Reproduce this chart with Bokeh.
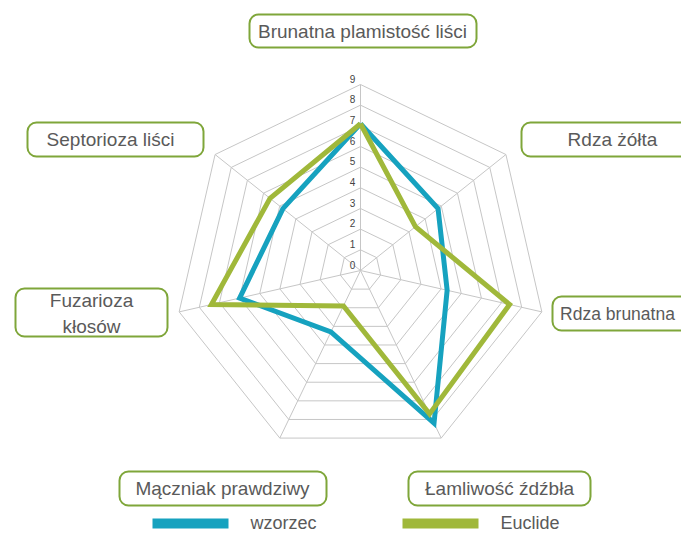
import math
from bokeh.plotting import figure
from bokeh.models import Range1d, BoxAnnotation, Label
from bokeh.core.properties import value
from bokeh.embed import file_html
from bokeh.resources import INLINE

# ---- data ----
categories = ["Brunatna plamistość liści", "Rdza żółta", "Rdza brunatna",
              "Łamliwość źdźbła", "Mączniak prawdziwy", "Fuzarioza\nkłosów",
              "Septorioza liści"]
wzorzec = [7.1, 4.8, 4.3, 8.2, 3.3, 6.0, 4.8]
euclide = [7.1, 3.4, 7.4, 7.7, 1.9, 7.4, 5.6]
series_names = ["wzorzec", "Euclide"]
ring_ticks = [0, 1, 2, 3, 4, 5, 6, 7, 8, 9]
rmax = 9

# ---- styles ----
BLUE = "#16a2bf"
GREEN = "#a0b83a"
BOX_GREEN = "#7fa63a"
GRID = "#c6c6c6"
TXT = "#5a5a5a"
FONT = "Liberation Sans"

W, H = 681, 532
S = 186.0 / 9  # px per unit
CX, CY = 360, 270  # picture px of radar centre
OFF = 0


def px(x):
    return (x - CX) / S


def py(y):
    return (CY - y) / S


p = figure(width=W, height=H, output_backend="svg", toolbar_location=None,
           x_range=Range1d(px(OFF), px(OFF + W)), y_range=Range1d(py(OFF + H), py(OFF)),
           min_border=0)
p.axis.visible = False
p.grid.visible = False
p.outline_line_color = None
p.background_fill_color = "white"

n = len(categories)
angles = [2 * math.pi * i / n for i in range(n)]


def pt(r, a):
    return r * math.sin(a), r * math.cos(a)


# grid rings
for r in ring_ticks[1:]:
    xs = [pt(r, a)[0] for a in angles] + [pt(r, angles[0])[0]]
    ys = [pt(r, a)[1] for a in angles] + [pt(r, angles[0])[1]]
    p.line(xs, ys, line_color=GRID, line_width=1)
# spokes
for a in angles:
    x, y = pt(rmax, a)
    p.line([0, x], [0, y], line_color=GRID, line_width=1)

# tick labels
p.text(x=[px(352)] * len(ring_ticks), y=[t + 6 / S for t in ring_ticks],
       text=[str(t) for t in ring_ticks], text_font=value(FONT), text_font_size="10px",
       text_color="#444444", text_align="center", text_baseline="middle")

# series
for vals, col in ((wzorzec, BLUE), (euclide, GREEN)):
    xs = [pt(v, a)[0] for v, a in zip(vals, angles)]
    ys = [pt(v, a)[1] for v, a in zip(vals, angles)]
    xs.append(xs[0]); ys.append(ys[0])
    p.line(xs, ys, line_color=col, line_width=5, line_join="miter")

# category boxes (picture px): left, right, top, bottom, text centre x, text centre y, font
boxes = [
    (249, 476, 14, 47, 362, 31, "19px"),
    (521, 712, 122, 156, 612, 139, "19px"),
    (552, 712, 296, 330, 617, 313, "17.5px"),
    (408, 590, 471, 505, 499, 488, "19px"),
    (119, 326, 471, 505, 222, 488, "19px"),
    (15, 167, 288, 336, 91, 313, "19px"),
    (27, 203, 122, 156, 110, 139, "19px"),
]
for cat, (l, r, t, b, tx, ty, fs) in zip(categories, boxes):
    p.add_layout(BoxAnnotation(left=px(l), right=px(r), top=py(t), bottom=py(b),
                               fill_color="white", fill_alpha=1.0,
                               line_color=BOX_GREEN, line_width=2, line_alpha=1.0,
                               border_radius=9))
for cat, (l, r, t, b, tx, ty, fs) in zip(categories, boxes):
    p.add_layout(Label(x=px(tx), y=py(ty), text=cat, text_font=FONT,
                       text_font_size=fs, text_color=TXT,
                       text_align="center", text_baseline="middle",
                       text_line_height=1.2))

# legend
leg = [(152, 228, 250, BLUE), (402, 478, 500, GREEN)]
for name, (l, r, tx, col) in zip(series_names, leg):
    p.add_layout(BoxAnnotation(left=px(l), right=px(r), top=py(518), bottom=py(528),
                               fill_color=col, fill_alpha=1.0, line_color=None))
    p.add_layout(Label(x=px(tx), y=py(522), text=name, text_font=FONT,
                       text_font_size="18px", text_color=TXT,
                       text_align="left", text_baseline="middle"))

open("out.html", "w").write(file_html(p, INLINE))
